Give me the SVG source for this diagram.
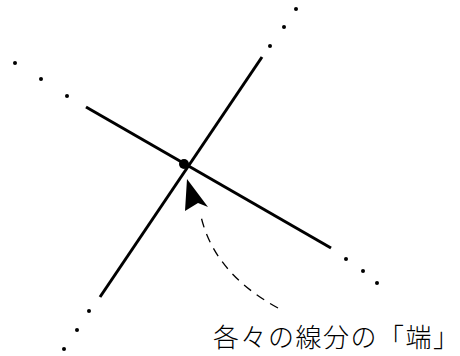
<svg xmlns="http://www.w3.org/2000/svg" width="460" height="356" viewBox="0 0 460 356">
<style>
.seg{stroke:#000;stroke-width:3;stroke-linecap:butt;fill:none}
.dot{fill:#000}
.dash{stroke:#000;stroke-width:1.3;stroke-dasharray:9 7;fill:none}
.lbl{font-family:"Noto Sans CJK JP","Noto Sans CJK SC",sans-serif;font-size:26px;font-weight:300;fill:#000}
</style>
<g id="segment1"><line class="seg" x1="262" y1="57" x2="100" y2="297"/>
<circle class="dot" cx="270" cy="46" r="2"/><circle class="dot" cx="284" cy="27" r="2"/><circle class="dot" cx="296" cy="9" r="2"/>
<circle class="dot" cx="89" cy="311" r="2"/><circle class="dot" cx="77" cy="330" r="2"/><circle class="dot" cx="64" cy="349" r="2"/></g>
<g id="segment2"><line class="seg" x1="86" y1="107" x2="331" y2="248"/>
<circle class="dot" cx="67" cy="96" r="2"/><circle class="dot" cx="41" cy="79" r="2"/><circle class="dot" cx="15" cy="63" r="2"/>
<circle class="dot" cx="346" cy="259" r="2"/><circle class="dot" cx="363" cy="271" r="2"/><circle class="dot" cx="377" cy="283" r="2"/></g>
<g id="endpoint"><circle class="dot" cx="184" cy="164" r="5"/></g>
<g id="connectors"><path class="dash" d="M278,308 Q212,272 200,212" /><path d="M187,179 L208,207 L198,203 L185,211 Z" fill="#000"/></g>
<g id="label"><text class="lbl" x="213" y="347" textLength="246" lengthAdjust="spacing">各々の線分の「端」</text></g>
</svg>
